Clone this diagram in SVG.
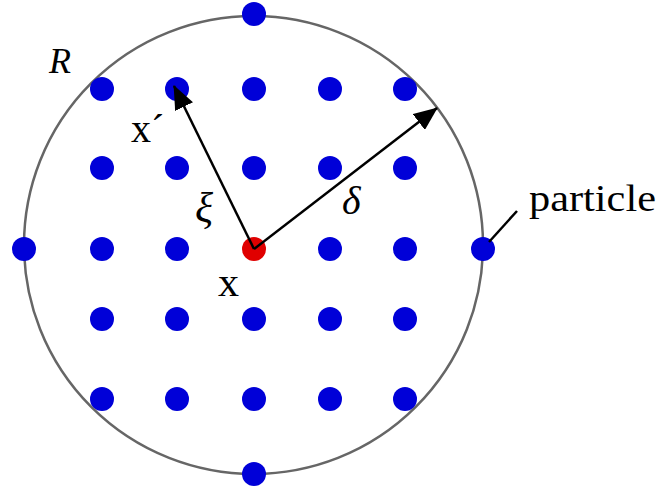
<svg xmlns="http://www.w3.org/2000/svg" width="660" height="491" viewBox="0 0 660 491">
<style>
.p{fill:#0000d8}
.t{font-family:"Liberation Serif","DejaVu Serif",serif;fill:#000}
.c{stroke:#000;stroke-width:2.5;fill:none}
</style>
<defs>
<marker id="a" viewBox="0 0 24 20" refX="23" refY="10" markerWidth="24" markerHeight="20" markerUnits="userSpaceOnUse" orient="auto">
<path d="M0,0 L24,10 L0,20 z" fill="#000"/>
</marker>
</defs>
<rect width="660" height="491" fill="#fff"/>
<g id="boundary">
<ellipse cx="253.5" cy="245" rx="229.5" ry="229" fill="none" stroke="#666" stroke-width="2.5"/>
</g>
<g id="particles">
<circle class="p" cx="254" cy="14" r="12"/>
<circle class="p" cx="102" cy="89" r="12"/><circle class="p" cx="177" cy="89" r="12"/><circle class="p" cx="254" cy="89" r="12"/><circle class="p" cx="330" cy="89" r="12"/><circle class="p" cx="405" cy="89" r="12"/>
<circle class="p" cx="102" cy="168" r="12"/><circle class="p" cx="177" cy="168" r="12"/><circle class="p" cx="254" cy="168" r="12"/><circle class="p" cx="330" cy="168" r="12"/><circle class="p" cx="405" cy="168" r="12"/>
<circle class="p" cx="24" cy="249" r="12"/><circle class="p" cx="102" cy="249" r="12"/><circle class="p" cx="177" cy="249" r="12"/><circle class="p" cx="330" cy="249" r="12"/><circle class="p" cx="405" cy="249" r="12"/><circle class="p" cx="483" cy="249" r="12"/>
<circle class="p" cx="102" cy="319" r="12"/><circle class="p" cx="177" cy="319" r="12"/><circle class="p" cx="254" cy="319" r="12"/><circle class="p" cx="330" cy="319" r="12"/><circle class="p" cx="405" cy="319" r="12"/>
<circle class="p" cx="102" cy="399" r="12"/><circle class="p" cx="177" cy="399" r="12"/><circle class="p" cx="254" cy="399" r="12"/><circle class="p" cx="330" cy="399" r="12"/><circle class="p" cx="405" cy="399" r="12"/>
<circle class="p" cx="254" cy="474" r="12"/>
</g>
<g id="center">
<circle cx="254" cy="249" r="12" fill="#e00000"/>
</g>
<g id="connectors">
<line class="c" x1="254" y1="249" x2="174" y2="86" marker-end="url(#a)"/>
<line class="c" x1="254" y1="249" x2="437" y2="108" marker-end="url(#a)"/>
<line class="c" x1="489" y1="242" x2="517" y2="211"/>
</g>
<g id="labels">
<text class="t" x="49" y="73" font-size="36" font-style="italic">R</text>
<text class="t" x="131" y="142" font-size="40">x´</text>
<text class="t" x="195" y="222" font-size="42" font-style="italic">ξ</text>
<text class="t" x="342" y="214" font-size="40" font-style="italic">δ</text>
<text class="t" x="218" y="296" font-size="42">x</text>
<text class="t" x="529" y="211" font-size="38" textLength="127" lengthAdjust="spacingAndGlyphs">particle</text>
</g>
</svg>
